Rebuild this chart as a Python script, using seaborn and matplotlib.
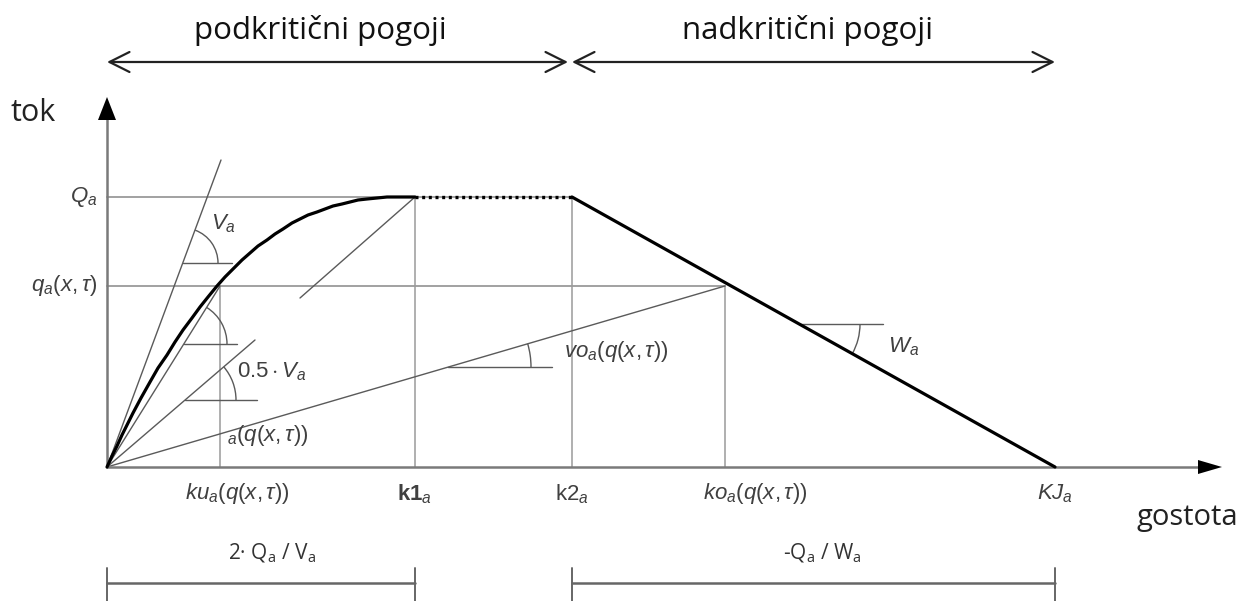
import matplotlib
matplotlib.use("Agg")
import matplotlib.pyplot as plt
from matplotlib.patches import Arc
import seaborn as sns
import pandas as pd

sns.set_theme(style="white")
plt.rcParams["mathtext.fontset"] = "custom"
plt.rcParams["mathtext.rm"] = "Liberation Sans"
plt.rcParams["mathtext.it"] = "Liberation Sans:italic"
plt.rcParams["mathtext.bf"] = "Liberation Sans:bold"
plt.rcParams["font.family"] = ["Liberation Sans", "DejaVu Sans"]

# --- fundamental diagram values (density k, flow q) ---
Q_max = 270          # capacity Q_a
q_state = 181        # current flow q_a(x, tau)
k1 = 308             # k1_a = 2 Q_a / V_a
k2 = 465             # k2_a
k_u = 113            # ku_a(q)
k_o = 618            # ko_a(q)
k_jam = 948          # KJ_a

# free-flow (subcritical) branch
curve_k = [0, 5, 10, 15, 20, 26, 34, 43, 51, 60, 68, 76, 85, 93, 101, 110, 118, 126, 135,
           143, 151, 160, 168, 176, 185, 193, 201, 210, 218, 226, 235, 243, 251, 260, 270,
           280, 294, 308]
curve_q = [0, 11, 21, 32, 42, 54, 69, 85, 99, 112, 125, 137, 149, 160, 170, 181, 190, 198, 207,
           214, 221, 227, 233, 238, 244, 248, 252, 255, 258, 261, 263, 265, 267, 268, 269,
           270, 270, 270]

# congested (supercritical) branch
cong_k = [k2, k_jam]
cong_q = [Q_max, 0]

# construction rays from the origin
tangent_end = (114, 307)      # slope V_a
half_v_end = (148, 127)       # slope 0.5 V_a
chord_end = (k_u, q_state)    # slope vu_a(q)
vo_end = (k_o, q_state)       # slope vo_a(q)
peak_ray_end = (193, 169)     # parallel to 0.5 V_a through the peak

fig = plt.figure(figsize=(12.42, 6.01), dpi=100)
ax = fig.add_axes([0, 0, 1, 1])
ax.set_xlim(-107, 1135)
ax.set_ylim(-134, 467)
ax.axis("off")

GRID = "#9a9a9a"
THIN = "#5a5a5a"
AXC = "#7a7a7a"


def seg(xs, ys, color, lw, ls="-", z=2):
    df = pd.DataFrame({"k": xs, "q": ys})
    sns.lineplot(data=df, x="k", y="q", ax=ax, color=color, lw=lw, linestyle=ls,
                 sort=False, estimator=None, zorder=z, legend=False)


# guide lines
seg([0, k2], [Q_max, Q_max], GRID, 1.3)
seg([0, k_o], [q_state, q_state], GRID, 1.3)
seg([k_u, k_u], [0, q_state], GRID, 1.1)
seg([k1, k1], [0, Q_max], GRID, 1.1)
seg([k2, k2], [0, Q_max], GRID, 1.1)
seg([k_o, k_o], [0, q_state], GRID, 1.1)

# rays
for end in (tangent_end, half_v_end, chord_end, vo_end):
    seg([0, end[0]], [0, end[1]], THIN, 1.0)
seg([k1, peak_ray_end[0]], [Q_max, peak_ray_end[1]], THIN, 1.0)

# main diagram
seg(curve_k, curve_q, "black", 2.3, z=4)
seg([k1, k2], [Q_max, Q_max], "black", 2.4, ls=(0, (0.9, 1.1)), z=4)
seg(cong_k, cong_q, "black", 2.3, z=4)

# axes with arrows
seg([0, 0], [0, 350], AXC, 1.8, z=3)
seg([0, 1095], [0, 0], AXC, 1.8, z=3)
ax.fill([-9, 9, 0], [347, 347, 370], color="black", zorder=5, lw=0)
ax.fill([1091, 1091, 1115], [7, -7, 0], color="black", zorder=5, lw=0)


# angle markers: horizontal reference + arc
def angle_mark(vx, vy, ref_len, radius, theta1, theta2):
    seg([vx, vx + ref_len], [vy, vy], THIN, 1.0)
    ax.add_patch(Arc((vx, vy), 2 * radius, 2 * radius, theta1=theta1, theta2=theta2,
                     color=THIN, lw=1.0, zorder=3))


angle_mark(76, 204, 49, 35, 0, 69.6)
angle_mark(77, 123, 53, 43, 0, 58.0)
angle_mark(78, 67, 72, 51, 0, 40.6)
angle_mark(341, 100, 104, 83, 0, 16.3)
angle_mark(692, 143, 84, 61, -29.2, 0)

# labels
lab = dict(color="#404040", fontsize=16)
ax.text(-10, Q_max, r"$Q_a$", ha="right", va="center", **lab)
ax.text(-10, q_state, r"$q_a(x,\tau)$", ha="right", va="center", **lab)
ax.text(116, 243, r"$V_a$", ha="center", va="center", **lab)
ax.text(130, 95, r"$0.5\cdot V_a$", ha="left", va="center", **lab)
ax.text(120, 31, r"${}_a(q(x,\tau))$", ha="left", va="center", **lab)
ax.text(457, 115, r"$vo_a(q(x,\tau))$", ha="left", va="center", **lab)
ax.text(781, 120, r"$W_a$", ha="left", va="center", **lab)

ax.text(k_u + 17, -27, r"$ku_a(q(x,\tau))$", ha="center", va="center", **lab)
ax.text(k1, -27, r"$\mathbf{k1}_a$", ha="center", va="center", **lab)
ax.text(k2, -27, r"$\mathrm{k2}_a$", ha="center", va="center", **lab)
ax.text(k_o + 30, -27, r"$ko_a(q(x,\tau))$", ha="center", va="center", **lab)
ax.text(k_jam, -27, r"$KJ_a$", ha="center", va="center", **lab)

narrow = ["Liberation Sans Narrow", "Open Sans", "DejaVu Sans"]
ax.text(-74, 354, "tok", ha="center", va="center", fontsize=22, family=narrow, color="#222222")
ax.text(1080, -50, "gostota", ha="center", va="center", fontsize=21, family=narrow, color="#222222")

# region headers with double arrows
ax.text(213, 437, "podkritični pogoji", ha="center", va="center", fontsize=22.5, family=narrow, color="#111111")
ax.text(701, 437, "nadkritični pogoji", ha="center", va="center", fontsize=22.5, family=narrow, color="#111111")
for a, b in ((0, k2 - 4), (k2, k_jam)):
    ax.annotate("", xy=(b, 405), xytext=(a, 405),
                arrowprops=dict(arrowstyle="<->,head_length=1.2,head_width=0.6",
                                color="#222222", lw=1.6, shrinkA=0, shrinkB=0))

# interval bars
for a, b in ((0, k1), (k2, k_jam)):
    seg([a, b], [-116, -116], "#666666", 1.8)
    seg([a, a], [-101, -134], "#666666", 1.4)
    seg([b, b], [-101, -134], "#666666", 1.4)
ax.text(165, -86, r"2· $\mathregular{Q_a}$ / $\mathregular{V_a}$", ha="center", va="center",
        fontsize=15, family=narrow, color="#333333")
ax.text(715, -86, r"-$\mathregular{Q_a}$ / $\mathregular{W_a}$", ha="center", va="center",
        fontsize=15, family=narrow, color="#333333")

fig.savefig("out.png", dpi=100)
